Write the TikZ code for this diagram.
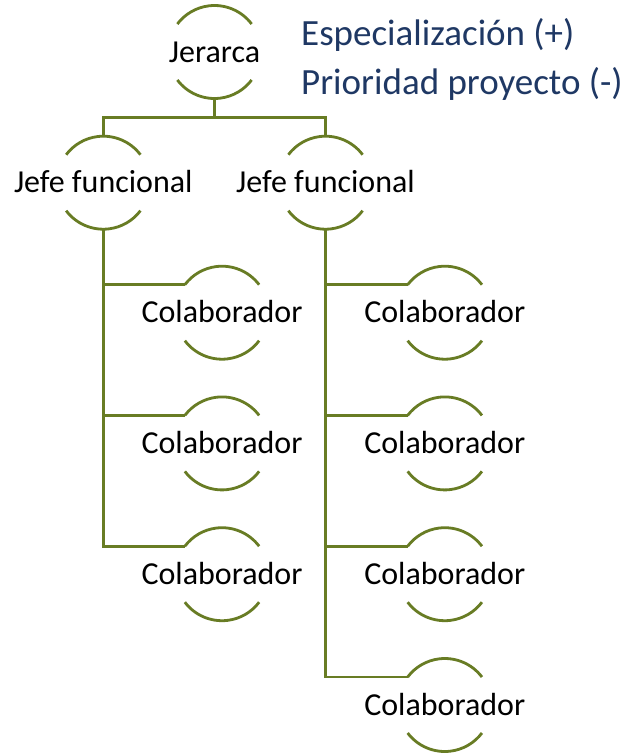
\documentclass[tikz,border=0pt]{standalone}
\usepackage{fontspec}
\setmainfont{Carlito}
\usetikzlibrary{calc}
\definecolor{olive}{RGB}{104,124,36}
\definecolor{navy}{RGB}{31,56,100}
\newcommand\R{46.5pt}
\tikzset{
  link/.style={draw=olive, line width=2.8pt},
  role/.style={inner sep=0pt, text height=20pt, text depth=0pt,
    font=\fontsize{32}{36}\selectfont, anchor=center},
  note/.style={inner sep=0pt, anchor=base west, text=navy,
    font=\fontsize{37}{40}\selectfont},
}
\begin{document}
\begin{tikzpicture}[x=1pt,y=1pt]
\useasboundingbox (0,0) rectangle (631,-755);
\fill[white] (0,0) rectangle (631,-755);

% people
\node[role] (jer) at (214.5,-52) {Jerarca};
\node[role] (jf1) at (103.3,-182.7) {Jefe funcional};
\node[role] (jf2) at (325.5,-182.7) {Jefe funcional};
\node[role] (c1a) at (222,-312.7) {Colaborador};
\node[role] (c1b) at (222,-443.4) {Colaborador};
\node[role] (c1c) at (222,-574.2) {Colaborador};
\node[role] (c2a) at (444.8,-312.7) {Colaborador};
\node[role] (c2b) at (444.8,-443.4) {Colaborador};
\node[role] (c2c) at (444.8,-574.2) {Colaborador};
\node[role] (c2d) at (444.8,-705) {Colaborador};

% legend
\node[note] (esp) at (301,-45) {Especialización (+)};
\node[note] (pri) at (301,-94) {Prioridad proyecto (-)};

% upper and lower arcs round every person
\foreach \n in {jer,jf1,jf2,c1a,c1b,c1c,c2a,c2b,c2c,c2d}{
  \draw[link] ($(\n.center)+(37:\R)$) arc[start angle=37, end angle=143, radius=\R];
  \draw[link] ($(\n.center)+(217:\R)$) arc[start angle=217, end angle=323, radius=\R];
}

% hierarchy
\coordinate (bar) at (0,-117.5);
\draw[link] ([yshift=-\R]jer.center) -- (jer.center |- bar);
\draw[link] ([yshift=\R]jf1.center) -- (jf1.center |- bar)
  -- (jf2.center |- bar) -- ([yshift=\R]jf2.center);
\foreach \c in {c1a,c1b,c1c}
  \draw[link] ([yshift=-\R]jf1.center) |- ($(\c.center)+(143:\R)$);
\foreach \c in {c2a,c2b,c2c,c2d}
  \draw[link] ([yshift=-\R]jf2.center) |- ($(\c.center)+(143:\R)$);
\end{tikzpicture}
\end{document}
